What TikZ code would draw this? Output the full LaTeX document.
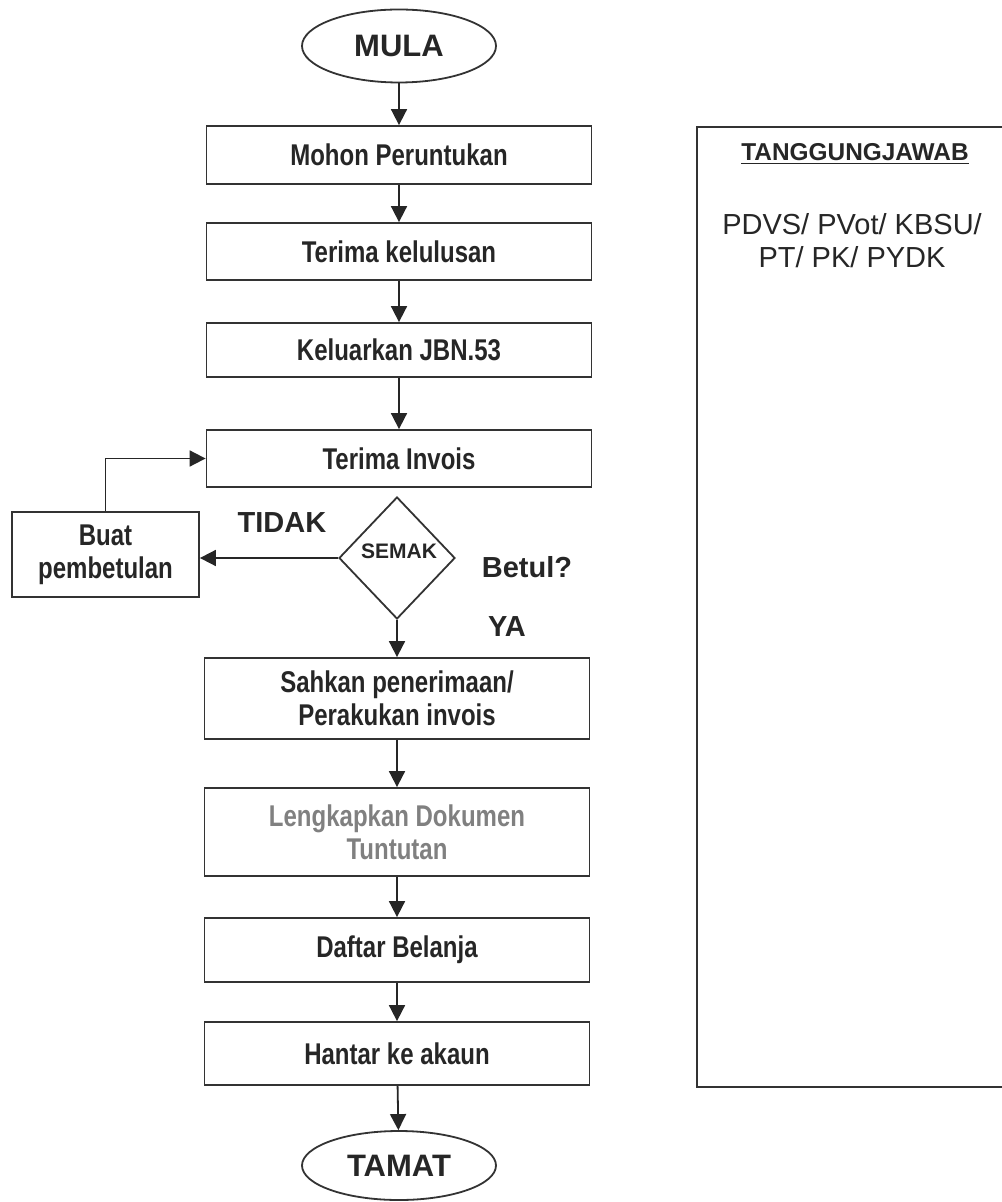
\documentclass[tikz,border=0pt]{standalone}
\usepackage{fontspec}
\setmainfont{Liberation Sans}
\newfontfamily\narrowfont[FakeStretch=0.8]{Liberation Sans}
\usetikzlibrary{arrows.meta}
\usetikzlibrary{shapes.geometric}

\tikzset{
  kotak/.style={draw=black!80, line width=0.9pt, minimum width=192.5pt, inner sep=0pt,
    align=center, text=black!85, font=\narrowfont\bfseries\fontsize{15}{16.5}\selectfont},
  bujur/.style={ellipse, draw=black!80, line width=0.9pt, minimum width=97pt, inner sep=0pt,
    text=black!85, font=\bfseries\fontsize{15.5}{17}\selectfont},
  label/.style={text=black!85, font=\bfseries\fontsize{14.5}{16}\selectfont},
  anak/.style={draw=black!85, line width=0.9pt, -{Triangle[width=8pt,length=8pt]}},
}

\begin{document}
\begin{tikzpicture}[x=0.5pt, y=-0.5pt]
\useasboundingbox (0,0) rectangle (1001,1202);

\node[bujur, minimum height=36.5pt] (mula) at (399,46) {MULA};
\node[kotak, minimum height=29pt] (mohon) at (399,155) {Mohon Peruntukan};
\node[kotak, minimum height=28.5pt] (lulus) at (399,251.5) {Terima kelulusan};
\node[kotak, minimum height=27pt] (jbn) at (399,350) {Keluarkan JBN.53};
\node[kotak, minimum height=28.5pt] (invois) at (399,458.5) {Terima Invois};
\node[diamond, draw=black!80, line width=0.9pt, minimum width=58pt, minimum height=61pt, inner sep=0pt] (semak) at (397,558) {};
\node[label, font=\bfseries\fontsize{10.5}{12}\selectfont] (semakteks) at (399,551) {SEMAK};
\node[kotak, minimum width=93.5pt, minimum height=42.5pt] (buat) at (105.5,554.5) {Buat\\pembetulan};
\node[kotak, minimum height=40.5pt] (sahkan) at (397,698.5) {Sahkan penerimaan/\\Perakukan invois};
\node[kotak, minimum height=44pt, text=black!50] (lengkap) at (397,832) {Lengkapkan Dokumen\\Tuntutan};
\node[kotak, minimum height=32pt] (daftar) at (397,950) {Daftar Belanja};
\node[kotak, minimum height=31.5pt] (hantar) at (397,1053.5) {Hantar ke akaun};
\node[bujur, minimum height=34.5pt] (tamat) at (399,1165.5) {TAMAT};

\node[label] (tidak) at (282,523) {TIDAK};
\node[label] (betul) at (527,567) {Betul?};
\node[label] (ya) at (507,627) {YA};

% aliran utama
\draw[anak] (mula) -- (mohon);
\draw[anak] (mohon) -- (lulus);
\draw[anak] (lulus) -- (jbn);
\draw[anak] (jbn) -- (invois);
\draw[anak] (semak) -- (sahkan);
\draw[anak] (sahkan) -- (lengkap);
\draw[anak] (lengkap) -- (daftar);
\draw[anak] (daftar) -- (hantar);
\draw[anak] (hantar) -- (tamat);

% pembetulan
\draw[anak] (semak.west) -- (semak.west -| buat.east);
\draw[anak] (buat.north) |- (invois.west);

% tanggungjawab
\draw[draw=black!80, line width=0.9pt] (697,127) rectangle (1012,1087);
\node[text=black!85, font=\bfseries\fontsize{12.2}{14}\selectfont] (tajuk) at (855,154) {\underline{TANGGUNGJAWAB}};
\node[text=black!85, align=center, font=\fontsize{14.5}{16.5}\selectfont] (pegawai) at (852,241) {PDVS/ PVot/ KBSU/\\PT/ PK/ PYDK};
\end{tikzpicture}
\end{document}
